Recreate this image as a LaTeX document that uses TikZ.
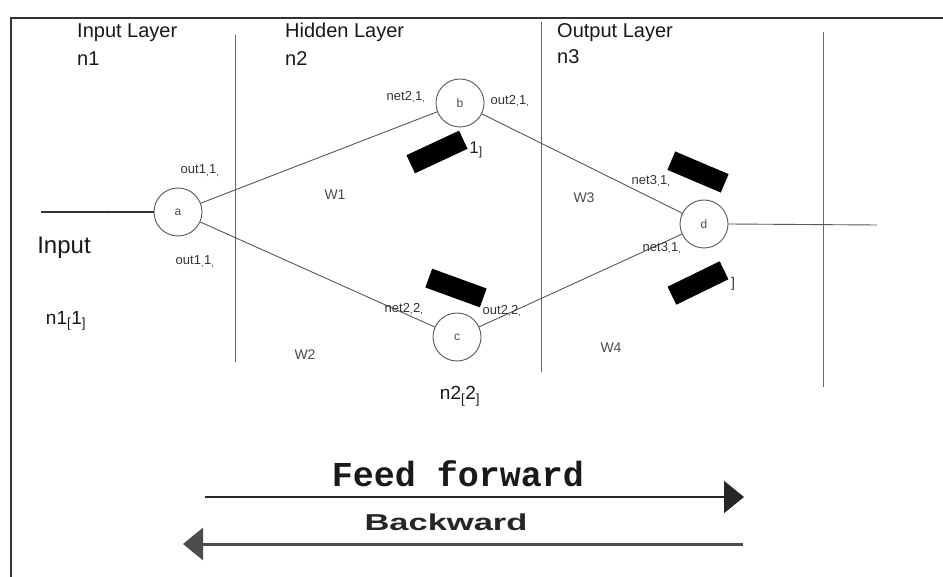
\documentclass[tikz,border=0pt]{standalone}
\usepackage{fontspec}
\setmainfont{Liberation Sans}
\newfontfamily\courierfont{Liberation Mono}
\usepackage{graphicx}
\usepackage{xcolor}
\usetikzlibrary{arrows.meta}

\begin{document}
\begin{tikzpicture}[x=1pt,y=-1pt,
  neuron/.style={circle,draw=black!65,line width=0.9pt,minimum size=48pt,inner sep=0pt,text=black!70,font=\fontsize{12}{12}\selectfont},
  small/.style={inner sep=0pt,text=black!80,font=\fontsize{13}{13}\selectfont},
  head/.style={anchor=base west,inner sep=0pt,text=black!90,font=\fontsize{20}{22}\selectfont},
  wlab/.style={inner sep=0pt,text=black!70,font=\fontsize{14}{14}\selectfont},
  blot/.style={fill=black,minimum width=58pt,minimum height=20pt,inner sep=0pt},
  link/.style={draw=black!65,line width=0.9pt}]
\useasboundingbox (0,0) rectangle (943,577);
\fill[white] (0,0) rectangle (943,577);

% frame and layer borders
\draw[black!80,line width=2.2pt] (11,577) -- (11,18) -- (943,18);
\draw[black!60,line width=1pt] (235,35) -- (235,362);
\draw[black!60,line width=1pt] (541,22) -- (541,372);
\draw[black!60,line width=1pt] (823,32) -- (823,387);

% headings
\node[head] (inl) at (77,38) {Input Layer};
\node[head] (inn) at (77,66) {n1};
\node[head] (hdl) at (285,38) {Hidden Layer};
\node[head] (hdn) at (285,66) {n2};
\node[head] (otl) at (557,38) {Output Layer};
\node[head] (otn) at (557,64) {n3};

% neurons
\node[neuron] (a) at (178,212) {a};
\node[neuron] (b) at (460,103) {b};
\node[neuron] (c) at (457,337) {c};
\node[neuron] (d) at (704,224) {d};

\coordinate (inp) at (41,212);
\coordinate (outp) at (877,225);
\draw[black!80,line width=1.3pt] (inp) -- (a.west);
\fill[black!80] (107,212) circle (1.3pt);
\draw[link] (d.east) -- (outp);
\draw[link] (a) -- (b);
\draw[link] (a) -- (c);
\draw[link] (b) -- (d);
\draw[link] (c) -- (d);

% texts
\node[inner sep=0pt,text=black!90,font=\fontsize{24}{24}\selectfont] (inlab) at (64,248) {Input};
\node[inner sep=0pt,text=black!90,font=\fontsize{19}{19}\selectfont] (n11) at (66,321) {n1\textsubscript{[}1\textsubscript{]}};
\node[inner sep=0pt,text=black!90,font=\fontsize{19}{19}\selectfont] (n22) at (460,396) {n2\textsubscript{[}2\textsubscript{]}};

\node[small] (o1u) at (200,171) {out1\textsubscript{,}1\textsubscript{,}};
\node[small] (o1d) at (195,262) {out1\textsubscript{,}1\textsubscript{,}};
\node[small] (n21) at (406,97) {net2\textsubscript{,}1\textsubscript{,}};
\node[small] (o21) at (510,101) {out2\textsubscript{,}1\textsubscript{,}};
\node[small] (n222) at (404,309) {net2\textsubscript{,}2\textsubscript{,}};
\node[small] (o22) at (502,311) {out2\textsubscript{,}2\textsubscript{,}};
\node[small] (n31u) at (651,181) {net3\textsubscript{,}1\textsubscript{,}};
\node[small] (n31d) at (662,248) {net3\textsubscript{,}1\textsubscript{,}};

\node[wlab] (w1) at (335,195) {W1};
\node[wlab] (w2) at (305,355) {W2};
\node[wlab] (w3) at (584,198) {W3};
\node[wlab] (w4) at (611,348) {W4};

% blacked out parts
\node[inner sep=0pt,text=black!85,font=\fontsize{17}{17}\selectfont] (b1) at (476,150) {1\textsubscript{]}};
\node[blot,rotate=25] (k1) at (437,152) {};
\node[blot,rotate=-20] (k2) at (456,288) {};
\node[blot,rotate=-23] (k3) at (698,172) {};
\node[inner sep=0pt,text=black!80,font=\fontsize{14}{14}\selectfont] (d1) at (733,284) {]};
\node[blot,rotate=26] (k4) at (698,283) {};

% directions
\coordinate (ffs) at (205,497);
\coordinate (ffe) at (744,497);
\coordinate (bws) at (743,544);
\coordinate (bwe) at (183,544);
\node[inner sep=0pt,text=black!90,font=\courierfont\fontsize{35}{35}\selectfont] (ff) at (458,474) {\textbf{Feed forward}};
\node[inner sep=0pt,text=black!85,font=\bfseries\fontsize{23}{23}\selectfont] (bw) at (446,522) {\scalebox{1.5}[1]{Backward}};
\draw[black!85,line width=2.2pt,-{Triangle[length=20pt,width=32pt]}] (ffs) -- (ffe);
\draw[black!70,line width=3pt,-{Triangle[length=20pt,width=32pt]}] (bws) -- (bwe);

\end{tikzpicture}
\end{document}
